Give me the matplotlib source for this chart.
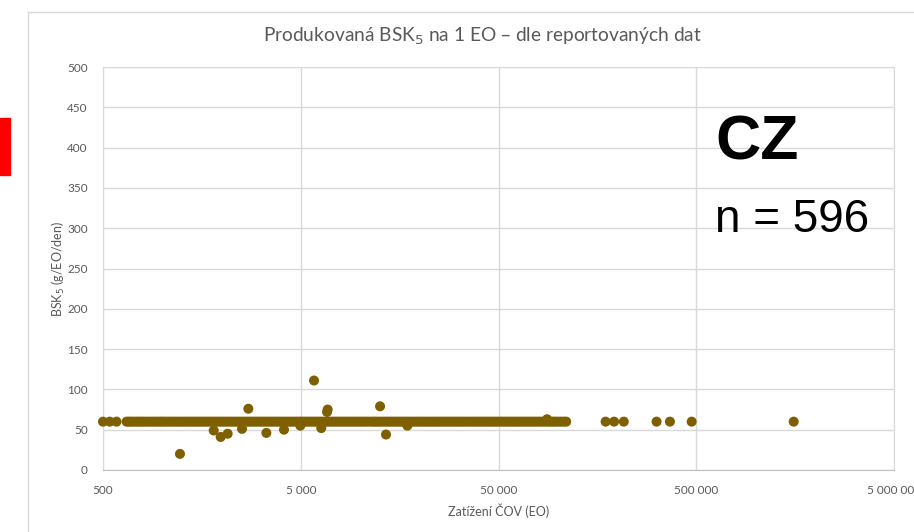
import matplotlib
matplotlib.use("Agg")
import matplotlib.pyplot as plt
from matplotlib.ticker import FuncFormatter, FixedLocator
from matplotlib.patches import Rectangle
from matplotlib.lines import Line2D

# zatizeni COV (EO) a BSK5 (g/EO/den) - hlavni pas okolo 60
eo_pas = [500, 541, 585, 658, 690, 730, 770, 810, 860, 910, 960, 1010, 1070,
          1130, 1200, 1270, 1340, 1420, 1500, 1590, 1680, 1780, 1880, 1990,
          2100, 2230, 2360, 2500, 2650, 2800, 2960, 3130, 3310, 3500, 3710,
          3920, 4150, 4390, 4650, 4920, 5200, 5500, 5820, 6160, 6520, 6900,
          7300, 7720, 8170, 8640, 9140, 9670, 10200, 10800, 11500, 12100,
          12800, 13600, 14400, 15200, 16100, 17000, 18000, 19100, 20200,
          21300, 22600, 23900, 25300, 26700, 28300, 29900, 31700, 33500,
          35500, 37500, 39700, 42000, 44400, 47000, 49700, 52600, 55700,
          58900, 62300, 65900, 69700, 73800, 78000, 82600, 88000, 93000,
          98000, 104000, 110000, 174000, 192000, 215000, 315000, 368000,
          474000, 1555000]
# dalsi stanice mezi nimi
eo_pas2 = [675, 710, 750, 790, 835, 885, 935, 985, 1040, 1100, 1165, 1235,
           1305, 1380, 1460, 1545, 1635, 1730, 1830, 1935, 2045, 2165, 2295,
           2430, 2575, 2725, 2880, 3045, 3220, 3405, 3605, 3815, 4035, 4270,
           4520, 4785, 5060, 5350, 5660, 5990, 6340, 6710, 7100, 7510, 7945,
           8405, 8890, 9405, 9935, 10500, 11150, 11800, 12450, 13200, 14000,
           14800, 15650, 16550, 17500, 18550, 19650, 20750, 21950, 23250,
           24600, 26000, 27500, 29100, 30800, 32600, 34500, 36500, 38600,
           40850, 43200, 45700, 48350, 51150, 54150, 57300, 60600, 64100,
           67800, 71750, 75900, 80300, 85300, 90500, 95500, 101000, 107000]
bsk_pas = [60] * (len(eo_pas) + len(eo_pas2))

# odlehle hodnoty
eo_odl = [1225, 1815, 1968, 2135, 2523, 2716, 3350, 4113, 4975, 5835, 6350,
          6790, 6840, 12590, 13490, 17300, 88000]
bsk_odl = [20, 49, 41, 45, 51, 76, 46, 50, 55, 111, 52, 72, 75, 79, 44, 55, 63]

x_ticks = [500, 5000, 50000, 500000, 5000000]
y_ticks = [0, 50, 100, 150, 200, 250, 300, 350, 400, 450, 500]

barva = "#7F6000"
seda = "#595959"
mrizka = "#d9d9d9"

fig = plt.figure(figsize=(9.14, 5.32), dpi=100)
ax = fig.add_axes([103 / 914, 62 / 532, 791 / 914, 403 / 532])

ax.scatter(eo_pas + eo_pas2 + eo_odl, bsk_pas + bsk_odl, s=52, color=barva,
           edgecolors="none", zorder=3, clip_on=False)

ax.set_xscale("log")
ax.set_xlim(500, 5000000)
ax.set_ylim(0, 500)
ax.xaxis.set_major_locator(FixedLocator(x_ticks))
ax.xaxis.set_minor_locator(FixedLocator([]))
ax.yaxis.set_major_locator(FixedLocator(y_ticks))
ax.xaxis.set_major_formatter(FuncFormatter(lambda v, p: f"{v:,.0f}".replace(",", " ")))
ax.grid(True, color=mrizka, linewidth=1, zorder=0)
ax.tick_params(length=0, labelsize=8.5, labelcolor=seda, pad=11)
for lab in ax.get_xticklabels() + ax.get_yticklabels():
    lab.set_family("Lato")
for s in ax.spines.values():
    s.set_color(mrizka)
ax.spines["bottom"].set_color("#bfbfbf")

ax.set_xlabel("Zatížení ČOV (EO)", fontsize=9, color=seda, family="Lato", labelpad=5)
ax.set_ylabel("BSK$_5$ (g/EO/den)", fontsize=9, color=seda, family="Lato", labelpad=0)
ax.set_title("Produkovaná BSK$_5$ na 1 EO – dle reportovaných dat", fontsize=13.75,
             color=seda, family="Lato", pad=18, x=0.48)

fig.text(715 / 914, 1 - 160 / 532, "CZ", fontsize=45, fontweight="bold",
         family="Liberation Sans", color="black")
fig.text(715 / 914, 1 - 232 / 532, "n = 596", fontsize=33,
         family="Liberation Sans", color="black")

# ramecek grafu a cerveny pruh vlevo
fig.add_artist(Line2D([28 / 914, 28 / 914], [0, 1 - 12 / 532], color=mrizka, lw=1))
fig.add_artist(Line2D([28 / 914, 1], [1 - 12 / 532, 1 - 12 / 532], color=mrizka, lw=1))
fig.add_artist(Rectangle((0, 1 - 175 / 532), 10 / 914, 57 / 532, color="red"))

fig.savefig("out.png", dpi=100)
